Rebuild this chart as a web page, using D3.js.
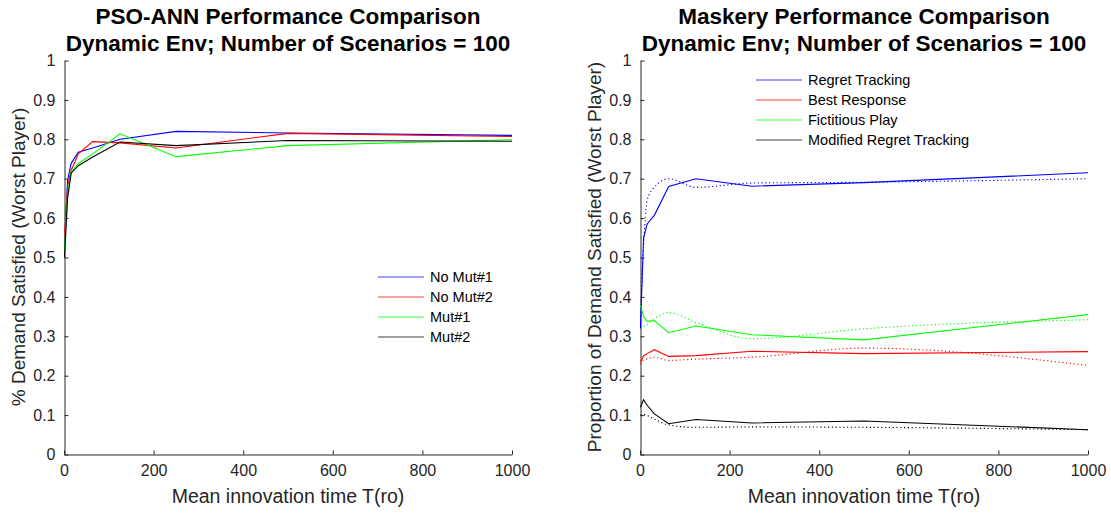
<!DOCTYPE html>
<html>
<head>
<meta charset="utf-8">
<script src="https://cdn.jsdelivr.net/npm/d3@7"></script>
<style>
  body { margin: 0; background: #fff; }
  svg text { font-family: "Liberation Sans", Arial, sans-serif; fill: #262626; }
</style>
</head>
<body>
<svg id="chart" width="1111" height="514"></svg>
<script>
// innovation times
var tLeft = [1, 8, 16, 32, 64, 125, 250, 500, 1000];
var tRight = [1, 8, 16, 32, 64, 125, 250, 500, 1000];

// PSO-ANN series
var noMut1 = [0.53, 0.695, 0.739, 0.767, 0.778, 0.80, 0.82, 0.816, 0.81];
var noMut2 = [0.55, 0.68, 0.721, 0.763, 0.794, 0.791, 0.778, 0.815, 0.807];
var mut1 = [0.52, 0.66, 0.717, 0.738, 0.763, 0.814, 0.756, 0.784, 0.799];
var mut2 = [0.50, 0.65, 0.714, 0.733, 0.755, 0.793, 0.784, 0.797, 0.795];

// Maskery series (solid + dotted)
var regret = [0.32, 0.55, 0.585, 0.607, 0.68, 0.70, 0.681, 0.69, 0.715];
var regretDot = [0.35, 0.53, 0.645, 0.678, 0.70, 0.678, 0.689, 0.691, 0.70];
var bestResp = [0.235, 0.25, 0.256, 0.266, 0.249, 0.251, 0.262, 0.256, 0.261];
var bestRespDot = [0.23, 0.24, 0.243, 0.247, 0.239, 0.242, 0.247, 0.27, 0.226];
var fictPlay = [0.38, 0.35, 0.338, 0.34, 0.309, 0.326, 0.304, 0.291, 0.355];
var fictPlayDot = [0.32, 0.325, 0.33, 0.345, 0.36, 0.335, 0.294, 0.319, 0.342];
var modRegret = [0.12, 0.139, 0.125, 0.103, 0.078, 0.089, 0.08, 0.085, 0.063];
var modRegretDot = [0.10, 0.102, 0.099, 0.09, 0.075, 0.069, 0.07, 0.069, 0.063];

var yTicks = [0, 0.1, 0.2, 0.3, 0.4, 0.5, 0.6, 0.7, 0.8, 0.9, 1];
var xTicks = [0, 200, 400, 600, 800, 1000];

var svg = d3.select("#chart");

function drawPanel(opts) {
	var x = d3.scaleLinear().domain([0, 1000]).range([opts.left, opts.left + 448]);
	var y = d3.scaleLinear().domain([0, 1]).range([454.5, 60.5]);
	var g = svg.append("g");

	// titles
	g.append("text").attr("x", opts.left + 224).attr("y", 24)
		.attr("text-anchor", "middle").style("font-size", "22.5px").style("font-weight", "bold")
		.style("fill", "#000").text(opts.title);
	g.append("text").attr("x", opts.left + 224).attr("y", 51)
		.attr("text-anchor", "middle").style("font-size", "22.5px").style("font-weight", "bold")
		.style("fill", "#000").text("Dynamic Env; Number of Scenarios = 100");

	// axes
	var xAxis = d3.axisBottom(x).tickValues(xTicks).tickSizeInner(-4).tickSizeOuter(0).tickPadding(10)
		.tickFormat(d3.format("d"));
	var yAxis = d3.axisLeft(y).tickValues(yTicks).tickSizeInner(-4).tickSizeOuter(0).tickPadding(9)
		.tickFormat(function(d){ return String(+d.toFixed(1)); });

	var gx = g.append("g").attr("transform", "translate(0,454.5)").call(xAxis);
	var gy = g.append("g").attr("transform", "translate(" + (opts.left + 0.5) + ",0)").call(yAxis);
	[gx, gy].forEach(function(a){
		a.select(".domain").attr("stroke", "#262626");
		a.selectAll(".tick line").attr("stroke", "#262626");
		a.selectAll("text").style("font-size", "16px").style("fill", "#262626");
	});

	g.append("text").attr("x", opts.left + 224).attr("y", 503)
		.attr("text-anchor", "middle").style("font-size", "19.5px").text("Mean innovation time T(ro)");
	g.append("text").attr("transform", "translate(" + opts.ylabX + ",257) rotate(-90)")
		.attr("text-anchor", "middle").style("font-size", "19px").text(opts.ylabel);

	var line = d3.line().x(function(d){ return x(d[0]); }).y(function(d){ return y(d[1]); });
	var smooth = d3.line().curve(d3.curveMonotoneX).x(function(d){ return x(d[0]); }).y(function(d){ return y(d[1]); });

	opts.series.forEach(function(s){
		var pts = opts.t.map(function(t, i){ return [t, s.values[i]]; });
		g.append("path").attr("d", s.dotted ? smooth(pts) : line(pts))
			.attr("fill", "none").attr("stroke", s.color).attr("stroke-width", 1.1)
			.attr("stroke-dasharray", s.dotted ? "1.2,2.6" : null);
	});

	// legend
	var lg = g.append("g");
	opts.legend.forEach(function(l, i){
		var yy = opts.legY + i * 20;
		lg.append("line").attr("x1", opts.legX).attr("x2", opts.legX + 46)
			.attr("y1", yy).attr("y2", yy).attr("stroke", l.color).attr("stroke-opacity", 0.75);
		lg.append("text").attr("x", opts.legX + 52).attr("y", yy + 5)
			.style("font-size", "14.5px").style("fill", "#000").text(l.name);
	});
}

drawPanel({
	left: 64, t: tLeft, title: "PSO-ANN Performance Comparison",
	ylabel: "% Demand Satisfied (Worst Player)", ylabX: 25,
	series: [
		{ values: noMut1, color: "#0000ff" },
		{ values: noMut2, color: "#ff0000" },
		{ values: mut1, color: "#00ff00" },
		{ values: mut2, color: "#000000" }
	],
	legX: 378, legY: 277,
	legend: [
		{ name: "No Mut#1", color: "#0000ff" },
		{ name: "No Mut#2", color: "#ff0000" },
		{ name: "Mut#1", color: "#00ff00" },
		{ name: "Mut#2", color: "#000000" }
	]
});

drawPanel({
	left: 640, t: tRight, title: "Maskery Performance Comparison",
	ylabel: "Proportion of Demand Satisfied (Worst Player)", ylabX: 601,
	series: [
		{ values: regretDot, color: "#0000ff", dotted: true },
		{ values: bestRespDot, color: "#ff0000", dotted: true },
		{ values: fictPlayDot, color: "#00ff00", dotted: true },
		{ values: modRegretDot, color: "#000000", dotted: true },
		{ values: regret, color: "#0000ff" },
		{ values: bestResp, color: "#ff0000" },
		{ values: fictPlay, color: "#00ff00" },
		{ values: modRegret, color: "#000000" }
	],
	legX: 756, legY: 80,
	legend: [
		{ name: "Regret Tracking", color: "#0000ff" },
		{ name: "Best Response", color: "#ff0000" },
		{ name: "Fictitious Play", color: "#00ff00" },
		{ name: "Modified Regret Tracking", color: "#000000" }
	]
});
</script>
</body>
</html>
